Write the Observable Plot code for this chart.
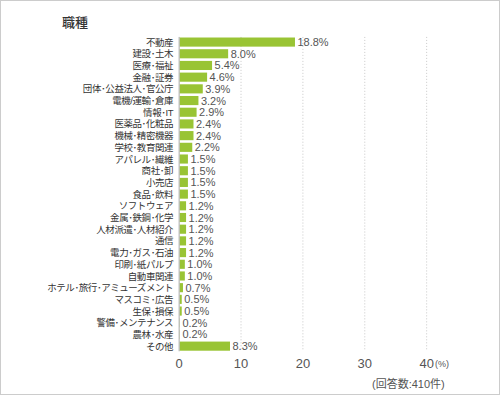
<!DOCTYPE html>
<html><head><meta charset="utf-8">
<script src="https://cdn.jsdelivr.net/npm/d3@7"></script>
<script src="https://cdn.jsdelivr.net/npm/@observablehq/plot@0.6"></script>
<style>
body{margin:0;background:#fff;}
#wrap{position:relative;width:500px;height:395px;box-sizing:border-box;border:1px solid #ccc;overflow:hidden;font-family:"Liberation Sans","Noto Sans CJK JP",sans-serif;}
#chart{position:absolute;left:-1px;top:-1px;}
#title{position:absolute;left:61px;top:11px;font-size:13px;color:#333;font-family:"Noto Sans CJK JP",sans-serif;font-weight:500;}
#unit{position:absolute;left:434px;top:358px;font-size:9px;color:#555;}
#note{position:absolute;left:371px;top:374px;font-size:11px;color:#555;}
</style></head>
<body>
<div id="wrap">
<div id="chart"></div>
<div id="title">職種</div>
<div id="unit">(%)</div>
<div id="note">(回答数:410件)</div>
</div>
<script>
const categories = ["不動産","建設・土木","医療・福祉","金融・証券","団体・公益法人・官公庁","電機/運輸・倉庫","情報・IT","医薬品・化粧品","機械・精密機器","学校・教育関連","アパレル・繊維","商社・卸","小売店","食品・飲料","ソフトウェア","金属・鉄鋼・化学","人材派遣・人材紹介","通信","電力・ガス・石油","印刷・紙パルプ","自動車関連","ホテル・旅行・アミューズメント","マスコミ・広告","生保・損保","警備・メンテナンス","農林・水産","その他"];
const values = [18.8,8.0,5.4,4.6,3.9,3.2,2.9,2.4,2.4,2.2,1.5,1.5,1.5,1.5,1.2,1.2,1.2,1.2,1.2,1.0,1.0,0.7,0.5,0.5,0.2,0.2,8.3];
const xTicks = [0,10,20,30,40];
const gridTicks = [10,20,30,40];
const data = categories.map((c,i)=>({cat:c, v:values[i]}));
const font = '"Liberation Sans","Noto Sans CJK JP",sans-serif';
const chart = Plot.plot({
  width:500, height:395,
  marginLeft:179, marginRight:73, marginTop:37, marginBottom:43,
  style:{fontFamily:font, color:"#555", background:"transparent"},
  x:{domain:[0,40], label:null},
  y:{domain:categories, paddingInner:0.22, paddingOuter:0.05, round:false, label:null},
  marks:[
    Plot.ruleX(gridTicks,{stroke:"#c8c8c8", strokeDasharray:"1,2"}),
    Plot.barX(data,{y:"cat", x:"v", fill:"#99c434", insetLeft:1}),
    Plot.ruleX([0],{stroke:"#aaa"}),
    Plot.text(data,{y:"cat", x:"v", text:d=>d.v.toFixed(1)+"%", textAnchor:"start", dx:2, fill:"#555", fontSize:11}),
    Plot.axisX({ticks:xTicks, tickSize:0, tickPadding:7, fontSize:13, color:"#555", label:null, line:true, stroke:"#bbb"}),
    Plot.axisY({tickSize:0, tickPadding:6, fontSize:9.5, color:"#333", label:null, tickFormat:d=>d.replace(/・/g,"･")})
  ]
});
chart.querySelectorAll("g[aria-label='y-axis tick label'] text").forEach(t=>t.setAttribute("letter-spacing","-0.4"));
document.getElementById("chart").appendChild(chart);
</script>
</body></html>
